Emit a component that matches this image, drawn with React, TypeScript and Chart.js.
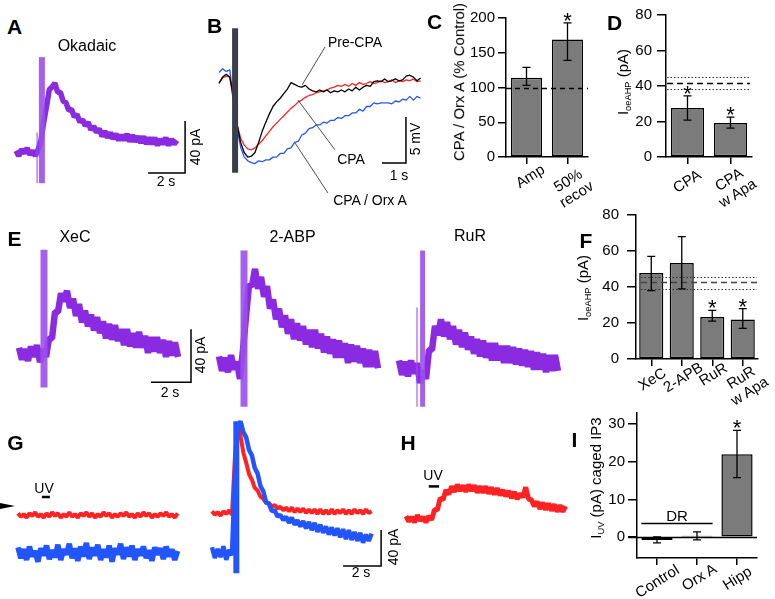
import React, { useEffect, useRef } from "react";
import { Chart, registerables } from "chart.js";

Chart.register(...registerables);

const FONT = "'Liberation Sans', Arial, Helvetica, sans-serif";
Chart.defaults.font.family = FONT;

// ======================= DATA =======================
const TRACE_DT = 0.15; // seconds between samples of every trace

// --- A: Okadaic (pA)
const A_OKADAIC = [1, -3, 2, -1, 3, -2, 1, -3, 2, 9, 23, 35, 48, 50, 53, 46, 46, 39, 38, 32, 33, 27, 29, 23, 25, 20, 23, 17, 20, 15, 18, 12, 16, 11, 15, 10, 14, 9, 13, 9, 14, 8, 13, 8, 12, 7, 12, 6, 11, 6, 11, 5, 10, 6, 11, 5, 10, 6, 9];
const A_ARTIFACT = { t: 1.4, lo: -24, hi: 73 };
const A_ARTIFACT_THIN = { t: 1.14, lo: -24, hi: 15 };
const A_SCALE = { t: 7.14, v: -16.2, dt: 2, dv: 40 };

// --- B: membrane potential (mV)
const B_PRE_CPA = [-0.6, 0.1, 0.4, 0.1, -2.0, -5.0, -7.0, -8.1, -8.6, -8.5, -8.1, -7.0, -5.8, -4.8, -3.9, -3.1, -2.6, -2.2, -1.7, -1.2, -0.5, -0.7, -0.9, -1.0, -0.8, -1.2, -1.4, -1.5, -1.3, -1.5, -1.3, -1.6, -1.4, -1.5, -1.3, -1.5, -1.2, -1.4, -1.0, -1.3, -1.0, -0.8, -0.9, -0.4, -0.3, -0.4, -0.1, -0.4, -0.3, -0.1, -0.3, -0.2, 0.2, 0.3, 0.1, -0.3, 0.0];
const B_CPA = [-0.5, 0.0, 0.2, 0.1, -2.5, -5.0, -6.5, -7.3, -7.7, -7.8, -7.6, -7.2, -6.8, -6.3, -5.8, -5.3, -4.9, -4.5, -4.1, -3.7, -3.3, -3.0, -2.6, -2.4, -2.1, -1.9, -1.8, -1.6, -1.5, -1.4, -1.3, -1.1, -1.0, -0.8, -0.9, -0.7, -0.9, -0.6, -0.8, -0.5, -0.7, -0.6, -0.4, -0.6, -0.5, -0.3, -0.5, -0.4, -0.2, -0.5, -0.3, -0.4, -0.2, -0.3, -0.1, -0.4, -0.3];
const B_CPA_ORXA = [0.6, 1.0, 0.7, 0.9, -2.5, -5.5, -7.5, -8.6, -9.0, -9.2, -9.3, -9.0, -9.1, -8.9, -8.9, -8.6, -8.6, -8.2, -8.2, -7.7, -7.6, -7.0, -6.9, -6.2, -6.0, -5.5, -5.4, -5.1, -5.1, -4.8, -4.9, -4.6, -4.6, -4.3, -4.4, -4.1, -4.1, -3.8, -3.8, -3.4, -3.6, -3.1, -3.1, -2.7, -2.8, -2.7, -2.7, -2.7, -2.8, -2.5, -2.6, -2.3, -2.4, -2.0, -2.4, -2.0, -2.2];
const B_STIM = { t: 0.67, lo: -10.3, hi: 5.4 };
const B_SCALE = { t: 6.79, v: -9.24, dt: 1, dv: 5 };
const B_LEADERS = [
  [4.42, 3.37, 3.46, -0.76],
  [4.83, -7.8, 3.29, -2.4],
  [4.54, -12.5, 3.17, -7.07],
];

// --- C
const C_CATS = ["Amp", "50%\nrecov"];
const C_MEANS = [114, 169];
const C_ERR_LO = [103, 139];
const C_ERR_HI = [129, 193];
const C_STARS = [false, true];
const C_TICKS = [0, 50, 100, 150, 200];
const C_REF = 100;

// --- D
const D_CATS = ["CPA", "CPA\nw Apa"];
const D_MEANS = [27.6, 19.2];
const D_ERR_LO = [20.8, 16.3];
const D_ERR_HI = [34.4, 22.5];
const D_STARS = [true, true];
const D_TICKS = [0, 20, 40, 60, 80];
const D_CONTROL = { mean: 41.7, lo: 38.3, hi: 45 };

// --- E (pA)
const E_XEC = [4, -5, 3, -6, 5, -3, 6, -7, 3, -3, 11, 11, 31, 31, 45, 39, 47, 34, 41, 28, 37, 23, 32, 20, 29, 17, 27, 15, 24, 11, 22, 10, 21, 9, 18, 6, 18, 5, 15, 4, 16, 4, 13, 0, 12, 1, 12, 0, 10, -3, 9, -2, 8, -3];
const E_2ABP = [5, -6, 4, -7, 6, -5, 1, -12, 10, 35, 59, 58, 71, 56, 65, 50, 58, 41, 48, 33, 41, 27, 36, 22, 33, 18, 30, 17, 28, 14, 25, 12, 25, 11, 22, 8, 20, 7, 18, 4, 17, 4, 15, 0, 14, 1, 13, 0, 11, -3, 10, -3, 9, -4];
const E_RUR = [5, -6, 4, -7, 5, -5, 3, -12, -3, -9, 13, 13, 31, 24, 36, 23, 34, 21, 31, 17, 28, 15, 26, 13, 23, 10, 21, 8, 20, 7, 18, 5, 18, 5, 16, 3, 16, 3, 15, 2, 14, 1, 13, 0, 12, -2, 11, -2, 10, -4, 9, -3, 9, -3];
const E_XEC_ART = { t: 1.25, lo: -26, hi: 78 };
const E_2ABP_ART = { t: 1.25, lo: -33, hi: 85 };
const E_RUR_ART = { t: 1.18, lo: -30, hi: 88 };
const E_RUR_ART_THIN = { t: 0.9, lo: -30, hi: 45 };
const E_SCALE = { t: 6.6, v: -22, dt: 2, dv: 40 };

// --- F
const F_CATS = ["XeC", "2-APB", "RuR", "RuR\nw Apa"];
const F_MEANS = [47.8, 53.3, 23.3, 22];
const F_ERR_LO = [38, 39, 21, 17];
const F_ERR_HI = [57, 68, 27, 28];
const F_STARS = [false, false, true, true];
const F_TICKS = [0, 20, 40, 60, 80];
const F_CONTROL = { mean: 42.7, lo: 38.9, hi: 45.5 };

// --- G (pA)
const G_UV_RED = [2, -2, 1, -3, 2, -1, 3, -2, 1, -3, 2, -2, 3, -1, 2, -3, 1, -2, 3, -2, 1, -3, 2, -1, 3, -2, 2, -3, 1, -2, 3, -1, 2, -3, 1, -2, 2, -1, 3, -2, 1, -3, 2, -2, 3, -1, 2, -3, 1, -2, 2, -1, 3, -2, 1, -3, 2];
const G_UV_BLUE = [-36, -48, -38, -50, -35, -46, -40, -52, -37, -45, -34, -49, -39, -47, -33, -50, -38, -44, -32, -48, -37, -51, -35, -46, -31, -49, -36, -45, -33, -50, -38, -47, -34, -52, -37, -44, -32, -49, -36, -46, -34, -50, -38, -45, -35, -48, -39, -51, -36, -44, -37, -49, -35, -46, -38, -50, -40];
const G_STIM_RED = [2, -2, 1, -3, 2, -1, 3, -2, 60, 100, 86, 67, 56, 43, 37, 28, 25, 18, 16, 11, 11, 7, 9, 5, 7, 3, 6, 2, 6, 1, 5, 1, 5, 0, 4, 0, 4, -1, 4, -1, 3, -1, 4, -1, 3, 0, 4, -1, 3, -1, 4, 0, 3, -1, 4, 0, 2];
const G_STIM_BLUE = [-38, -50, -40, -49, -37, -52, -41, -47, 40, 95, 102, 90, 84, 70, 64, 50, 44, 30, 24, 12, 10, 2, 3, -4, -2, -8, -4, -11, -5, -13, -8, -15, -9, -17, -10, -19, -11, -21, -13, -22, -15, -24, -16, -25, -17, -27, -18, -29, -19, -30, -21, -31, -22, -33, -24, -31, -23];
const G_STIM_ART = { t: 1.28, lo: -67, hi: 102 };
const G_UV = { t0: 1.26, t1: 1.68, v: 20 };
const G_SCALE = { t: 6.9, v: -59, dt: 2, dv: 40 };

// --- H (pA)
const H_HIPP = [1, -5, 0, -6, 2, -4, 0, -6, 1, -3, 8, 8, 21, 19, 30, 25, 34, 28, 36, 29, 35, 28, 36, 29, 35, 27, 34, 27, 34, 26, 33, 25, 32, 24, 30, 23, 29, 21, 28, 20, 26, 22, 33, 20, 19, 12, 17, 9, 16, 8, 15, 7, 14, 6, 13, 6, 12];
const H_UV = { t0: 1.2, t1: 1.74, v: 34 };

// --- I
const I_CATS = ["Control", "Orx A", "Hipp"];
const I_MEANS = [-0.7, 0.4, 22];
const I_ERR_LO = [-1.5, -0.7, 15.8];
const I_ERR_HI = [0.1, 1.4, 28.3];
const I_STARS = [false, false, true];
const I_TICKS = [0, 10, 20, 30];
const I_DR_LEVEL = 3.7;

// ======================= STYLE =======================
const PURPLE = "#8a2be2";
const PURPLE_ART = "rgba(155,80,235,0.9)";
const RED = "#ff2222";
const BLUE = "#2255ff";
const BAR_FILL = "#7b7b7b";

// ======================= HELPERS =======================
type Pt = { x: number; y: number };
const series = (vals: number[]): Pt[] => vals.map((v, i) => ({ x: i * TRACE_DT, y: v }));
const vline = (a: { t: number; lo: number; hi: number }): Pt[] => [{ x: a.t, y: a.lo }, { x: a.t, y: a.hi }];
const scaleBar = (s: { t: number; v: number; dt: number; dv: number }): Pt[] => [
  { x: s.t, y: s.v },
  { x: s.t + s.dt, y: s.v },
  { x: s.t + s.dt, y: s.v + s.dv },
];
const hbar = (u: { t0: number; t1: number; v: number }): Pt[] => [{ x: u.t0, y: u.v }, { x: u.t1, y: u.v }];

type Layer = { data: Pt[]; color: string; width: number; join?: string };

function traceConfig(box: number[], origin: number[], sx: number, sy: number, layers: Layer[]) {
  const [L, T, W, H] = box;
  const [ox, oy] = origin;
  return {
    type: "scatter",
    data: {
      datasets: layers
        .slice()
        .reverse()
        .map((l) => ({
          data: l.data,
          showLine: true,
          borderColor: l.color,
          backgroundColor: l.color,
          borderWidth: l.width,
          pointRadius: 0,
          pointHoverRadius: 0,
          tension: 0,
          fill: false,
          borderCapStyle: "butt",
          borderJoinStyle: l.join || "miter",
        })),
    },
    options: {
      animation: false,
      responsive: false,
      maintainAspectRatio: false,
      events: [],
      layout: { padding: 0 },
      plugins: { legend: { display: false }, tooltip: { enabled: false } },
      scales: {
        x: { type: "linear", display: false, min: (L - ox) / sx, max: (L + W - ox) / sx },
        y: { type: "linear", display: false, min: (oy - T - H) / sy, max: (oy - T) / sy },
      },
    },
  };
}

type Ref = { v: number; dash: number[]; color: string; width: number; from?: number; to?: number };

function barConfig(p: any) {
  const overlay = {
    id: "overlay",
    afterDatasetsDraw(chart: any) {
      const ctx = chart.ctx;
      const ys = chart.scales.y;
      const { left, right } = chart.chartArea;
      ctx.save();
      (p.refs || []).forEach((r: Ref) => {
        const y = Math.round(ys.getPixelForValue(r.v)) + 0.5;
        ctx.beginPath();
        ctx.setLineDash(r.dash);
        ctx.strokeStyle = r.color;
        ctx.lineWidth = r.width;
        ctx.moveTo(left + (r.from || 0), y);
        ctx.lineTo(right - (r.to || 0), y);
        ctx.stroke();
      });
      ctx.setLineDash([]);
      const meta = chart.getDatasetMeta(0);
      ctx.strokeStyle = "#000";
      ctx.fillStyle = "#000";
      ctx.lineWidth = 1.3;
      ctx.font = `22px ${FONT}`;
      ctx.textAlign = "center";
      ctx.textBaseline = "alphabetic";
      meta.data.forEach((el: any, i: number) => {
        const x = el.x;
        const yl = ys.getPixelForValue(p.lo[i]);
        const yh = ys.getPixelForValue(p.hi[i]);
        ctx.beginPath();
        ctx.moveTo(x, yl);
        ctx.lineTo(x, yh);
        ctx.moveTo(x - 4, yl);
        ctx.lineTo(x + 4, yl);
        ctx.moveTo(x - 4, yh);
        ctx.lineTo(x + 4, yh);
        ctx.stroke();
        if (p.stars[i]) ctx.fillText("*", x, yh + 5);
      });
      if (p.extra) p.extra(chart, ctx, meta);
      ctx.restore();
    },
  };
  return {
    type: "bar",
    data: {
      labels: p.cats,
      datasets: [
        {
          data: p.means,
          backgroundColor: BAR_FILL,
          borderColor: "#000",
          borderWidth: 1.5,
          borderSkipped: false,
          barPercentage: p.barPct,
          categoryPercentage: 1,
        },
      ],
    },
    options: {
      animation: false,
      responsive: false,
      maintainAspectRatio: false,
      events: [],
      layout: { padding: { top: p.padTop, right: p.padRight, left: 0, bottom: 0 } },
      plugins: { legend: { display: false }, tooltip: { enabled: false } },
      scales: {
        x: {
          offset: true,
          grid: { offset: false, drawOnChartArea: false, drawTicks: true, tickLength: 7, color: "#000", lineWidth: 1.5 },
          border: { color: "#000", width: 1.5 },
          ticks: { display: false },
          afterFit: (s: any) => {
            s.height = p.xAxisH;
          },
        },
        y: {
          min: p.yMin,
          max: p.yMax,
          grid: { drawOnChartArea: false, drawTicks: true, tickLength: p.tickLen, color: "#000", lineWidth: 1.5 },
          border: { color: "#000", width: 1.5 },
          ticks: { color: "#000", font: { size: 15, family: FONT }, padding: p.tickPad, autoSkip: false },
          afterBuildTicks: (s: any) => {
            s.ticks = p.ticks.map((v: number) => ({ value: v }));
          },
          afterFit: (s: any) => {
            s.width = p.yAxisW;
          },
        },
      },
    },
    plugins: [overlay],
  };
}

// ======================= PANELS =======================
const PANELS: { box: number[]; make: () => any }[] = [
  {
    box: [10, 50, 195, 145],
    make: () =>
      traceConfig([10, 50, 195, 145], [16, 152], 18.5, 1.3, [
        { data: series(A_OKADAIC), color: PURPLE, width: 5.5, join: "bevel" },
        { data: vline(A_ARTIFACT_THIN), color: PURPLE_ART, width: 1.2 },
        { data: vline(A_ARTIFACT), color: PURPLE_ART, width: 6 },
        { data: scaleBar(A_SCALE), color: "#000", width: 1.5 },
      ]),
  },
  {
    box: [200, 20, 225, 195],
    make: () =>
      traceConfig([200, 20, 225, 195], [219, 78], 24, 9.2, [
        { data: series(B_CPA_ORXA), color: BLUE, width: 1.3, join: "round" },
        { data: series(B_CPA), color: RED, width: 1.3, join: "round" },
        { data: series(B_PRE_CPA), color: "#000", width: 1.3, join: "round" },
        { data: vline(B_STIM), color: "#3a3e4a", width: 6 },
        ...B_LEADERS.map((l) => ({ data: [{ x: l[0], y: l[1] }, { x: l[2], y: l[3] }], color: "#222", width: 0.8 })),
        { data: scaleBar(B_SCALE), color: "#000", width: 1.5 },
      ]),
  },
  {
    box: [10, 240, 200, 175],
    make: () =>
      traceConfig([10, 240, 200, 175], [19, 353], 20, 1.325, [
        { data: series(E_XEC), color: PURPLE, width: 6.5, join: "bevel" },
        { data: vline(E_XEC_ART), color: PURPLE_ART, width: 7 },
        { data: scaleBar(E_SCALE), color: "#000", width: 1.5 },
      ]),
  },
  {
    box: [212, 240, 180, 175],
    make: () =>
      traceConfig([212, 240, 180, 175], [219, 363], 20, 1.325, [
        { data: series(E_2ABP), color: PURPLE, width: 6.5, join: "bevel" },
        { data: vline(E_2ABP_ART), color: PURPLE_ART, width: 7 },
      ]),
  },
  {
    box: [392, 240, 180, 175],
    make: () =>
      traceConfig([392, 240, 180, 175], [399, 367], 20, 1.325, [
        { data: series(E_RUR), color: PURPLE, width: 6.5, join: "bevel" },
        { data: vline(E_RUR_ART_THIN), color: PURPLE_ART, width: 1.2 },
        { data: vline(E_RUR_ART), color: PURPLE_ART, width: 5 },
      ]),
  },
  {
    box: [12, 410, 190, 175],
    make: () =>
      traceConfig([12, 410, 190, 175], [18, 515], 19, 0.9, [
        { data: series(G_UV_RED), color: RED, width: 4, join: "bevel" },
        { data: series(G_UV_BLUE), color: BLUE, width: 5.5, join: "bevel" },
        { data: hbar(G_UV), color: "#000", width: 2.5 },
      ]),
  },
  {
    box: [205, 415, 195, 170],
    make: () =>
      traceConfig([205, 415, 195, 170], [212, 513], 19, 0.9, [
        { data: series(G_STIM_RED), color: RED, width: 4, join: "bevel" },
        { data: series(G_STIM_BLUE), color: BLUE, width: 4.5, join: "bevel" },
        { data: vline(G_STIM_ART), color: BLUE, width: 6 },
        { data: scaleBar(G_SCALE), color: "#000", width: 1.5 },
      ]),
  },
  {
    box: [400, 430, 175, 130],
    make: () =>
      traceConfig([400, 430, 175, 130], [406, 517], 19, 0.9, [
        { data: series(H_HIPP), color: RED, width: 5, join: "bevel" },
        { data: hbar(H_UV), color: "#000", width: 2.5 },
      ]),
  },
  {
    box: [440, 0, 160, 180],
    make: () =>
      barConfig({
        cats: C_CATS, means: C_MEANS, lo: C_ERR_LO, hi: C_ERR_HI, stars: C_STARS, ticks: C_TICKS,
        yMin: 0, yMax: 200, padTop: 18, padRight: 12, yAxisW: 66, xAxisH: 23, tickLen: 8, tickPad: 3, barPct: 0.76,
        refs: [{ v: C_REF, dash: [5, 4], color: "#000", width: 1.5 }],
      }),
  },
  {
    box: [600, 0, 170, 180],
    make: () =>
      barConfig({
        cats: D_CATS, means: D_MEANS, lo: D_ERR_LO, hi: D_ERR_HI, stars: D_STARS, ticks: D_TICKS,
        yMin: 0, yMax: 80, padTop: 15, padRight: 18, yAxisW: 66, xAxisH: 23, tickLen: 9, tickPad: 5, barPct: 0.77,
        refs: [
          { v: D_CONTROL.mean, dash: [6, 4], color: "#000", width: 1.5, from: 1, to: 2 },
          { v: D_CONTROL.hi, dash: [1.5, 2], color: "#333", width: 1.2, from: 1, to: 2 },
          { v: D_CONTROL.lo, dash: [1.5, 2], color: "#333", width: 1.2, from: 1, to: 2 },
        ],
      }),
  },
  {
    box: [590, 195, 180, 185],
    make: () =>
      barConfig({
        cats: F_CATS, means: F_MEANS, lo: F_ERR_LO, hi: F_ERR_HI, stars: F_STARS, ticks: F_TICKS,
        yMin: 0, yMax: 80, padTop: 20, padRight: 12, yAxisW: 46, xAxisH: 21, tickLen: 9, tickPad: 8, barPct: 0.79,
        refs: [
          { v: F_CONTROL.mean, dash: [6, 4], color: "#444", width: 1.5, from: 5, to: 1 },
          { v: F_CONTROL.hi, dash: [1.5, 2], color: "#333", width: 1.2, from: 5, to: 1 },
          { v: F_CONTROL.lo, dash: [1.5, 2], color: "#333", width: 1.2, from: 5, to: 1 },
        ],
      }),
  },
  {
    box: [585, 395, 180, 175],
    make: () =>
      barConfig({
        cats: I_CATS, means: I_MEANS, lo: I_ERR_LO, hi: I_ERR_HI, stars: I_STARS, ticks: I_TICKS,
        yMin: -5.5, yMax: 32.9, padTop: 18, padRight: 8, yAxisW: 52, xAxisH: 10, tickLen: 9, tickPad: 3, barPct: 0.78,
        refs: [{ v: 0, dash: [], color: "#000", width: 1.3, from: -9, to: 0 }],
        extra: (chart: any, ctx: any, meta: any) => {
          const ys = chart.scales.y;
          const b0 = meta.data[0];
          const b1 = meta.data[1];
          const y = Math.round(ys.getPixelForValue(I_DR_LEVEL)) + 0.5;
          ctx.beginPath();
          ctx.lineWidth = 1.5;
          ctx.moveTo(b0.x - b0.width / 2, y);
          ctx.lineTo(b1.x + b1.width / 2, y);
          ctx.stroke();
        },
      }),
  },
];

// ======================= TEXT =======================
type T = { t: any; x: number; y: number; size?: number; bold?: boolean; rot?: number };
const sub = (main: string, s: string, rest: string) => (
  <span>
    {main}
    <span style={{ fontSize: "0.62em", position: "relative", top: "0.3em" }}>{s}</span>
    {rest}
  </span>
);
const multi = (s: string) =>
  s.split("\n").map((line, i) => (
    <div key={i} style={{ textAlign: "center" }}>
      {line}
    </div>
  ));

const TEXTS: T[] = [
  // panel letters
  { t: "A", x: 14.5, y: 26.5, size: 21, bold: true },
  { t: "B", x: 214.5, y: 25.5, size: 21, bold: true },
  { t: "C", x: 434.5, y: 21.5, size: 21, bold: true },
  { t: "D", x: 614.5, y: 23, size: 21, bold: true },
  { t: "E", x: 14.5, y: 238.5, size: 21, bold: true },
  { t: "F", x: 586, y: 240.5, size: 21, bold: true },
  { t: "G", x: 15.5, y: 442.5, size: 21, bold: true },
  { t: "H", x: 408, y: 442.5, size: 21, bold: true },
  { t: "I", x: 574.5, y: 440, size: 21, bold: true },
  // titles
  { t: "Okadaic", x: 87, y: 45.5, size: 16 },
  { t: "XeC", x: 75, y: 237, size: 16 },
  { t: "2-ABP", x: 292.5, y: 237, size: 16 },
  { t: "RuR", x: 470, y: 236, size: 16 },
  // B labels
  { t: "Pre-CPA", x: 355, y: 42, size: 14 },
  { t: "CPA", x: 351, y: 159, size: 14 },
  { t: "CPA / Orx A", x: 370, y: 200, size: 14 },
  // scale bars
  { t: "2 s", x: 166, y: 181, size: 14 },
  { t: "40 pA", x: 195, y: 147, size: 14, rot: -90 },
  { t: "5 mV", x: 415, y: 139, size: 14, rot: -90 },
  { t: "1 s", x: 399, y: 175, size: 14 },
  { t: "2 s", x: 170, y: 392, size: 14 },
  { t: "40 pA", x: 200, y: 355, size: 14, rot: -90 },
  { t: "2 s", x: 361, y: 572, size: 14 },
  { t: "40 pA", x: 393, y: 547, size: 14, rot: -90 },
  { t: "UV", x: 44, y: 487.5, size: 14 },
  { t: "UV", x: 433, y: 475, size: 14 },
  // bar chart y titles
  { t: "CPA / Orx A (% Control)", x: 459, y: 82, size: 15, rot: -90 },
  { t: sub("I", "oeAHP", " (pA)"), x: 623, y: 82, size: 15, rot: -90 },
  { t: sub("I", "oeAHP", " (pA)"), x: 583, y: 288, size: 15, rot: -90 },
  { t: sub("I", "UV", " (pA) caged IP3"), x: 596, y: 478, size: 15, rot: -90 },
  { t: "DR", x: 677, y: 516, size: 15 },
];

const XLABEL_POS: { cats: string[]; pos: number[][] }[] = [
  { cats: C_CATS, pos: [[530, 176], [572, 187]] },
  { cats: D_CATS, pos: [[687, 181], [733, 186]] },
  { cats: F_CATS, pos: [[652, 379], [683, 377], [713, 374], [745, 384]] },
  { cats: I_CATS, pos: [[657, 581], [699, 577], [737, 578]] },
];
XLABEL_POS.forEach((g) =>
  g.cats.forEach((c, i) => TEXTS.push({ t: multi(c), x: g.pos[i][0], y: g.pos[i][1], size: 15, rot: -32 }))
);

// ======================= COMPONENTS =======================
function ChartBox({ box, make }: { box: number[]; make: () => any }) {
  const ref = useRef<HTMLCanvasElement | null>(null);
  useEffect(() => {
    const chart = new Chart(ref.current as HTMLCanvasElement, make());
    return () => chart.destroy();
  }, []);
  return (
    <canvas
      ref={ref}
      width={box[2]}
      height={box[3]}
      style={{ position: "absolute", left: box[0], top: box[1], width: box[2], height: box[3] }}
    />
  );
}

function Txt({ t, x, y, size = 14, bold, rot = 0 }: T) {
  return (
    <div
      style={{
        position: "absolute",
        left: x,
        top: y,
        transform: `translate(-50%, -50%) rotate(${rot}deg)`,
        fontFamily: FONT,
        fontSize: size,
        fontWeight: bold ? 700 : 400,
        lineHeight: 1.05,
        whiteSpace: "nowrap",
        textAlign: "center",
        color: "#000",
      }}
    >
      {t}
    </div>
  );
}

export default function App() {
  return (
    <div
      style={{
        position: "absolute",
        left: 0,
        top: 0,
        width: 775,
        height: 599,
        background: "#fff",
        overflow: "hidden",
        fontFamily: FONT,
      }}
    >
      {PANELS.map((p, i) => (
        <ChartBox key={i} box={p.box} make={p.make} />
      ))}
      {TEXTS.map((t, i) => (
        <Txt key={i} {...t} />
      ))}
      <div
        style={{
          position: "absolute",
          left: 0,
          top: 502.5,
          width: 0,
          height: 0,
          borderLeft: "15px solid #000",
          borderTop: "3.5px solid transparent",
          borderBottom: "3.5px solid transparent",
        }}
      />
    </div>
  );
}
